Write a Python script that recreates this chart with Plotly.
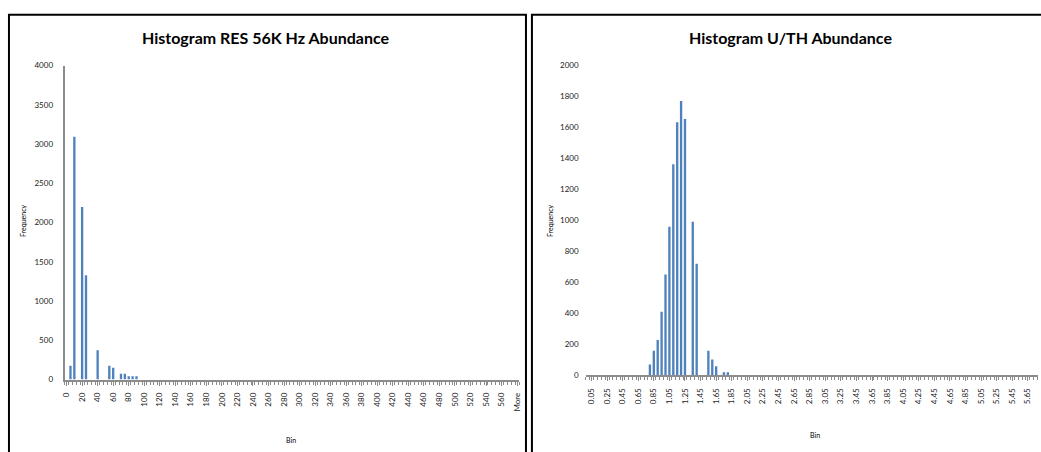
import plotly.graph_objects as go

# ---- data -------------------------------------------------------------
# RES 56K Hz abundance: bin index -> frequency
res_bins = [1, 2, 4, 5, 8, 11, 12, 14, 15, 16, 17, 18]
res_counts = [174, 3093, 2199, 1329, 373, 174, 149, 75, 75, 43, 43, 43]
res_tick_pos = list(range(0, 113, 4)) + [116]
res_tick_text = ["0", "20", "40", "60", "80", "100", "120", "140", "160", "180",
                 "200", "220", "240", "260", "280", "300", "320", "340", "360",
                 "380", "400", "420", "440", "460", "480", "500", "520", "540",
                 "560", "More"]
res_y_ticks = [0, 500, 1000, 1500, 2000, 2500, 3000, 3500, 4000]

# U/TH abundance: bin index -> frequency
uth_bins = [16, 17, 18, 19, 20, 21, 22, 23, 24, 25, 27, 28, 31, 32, 33, 35, 36]
uth_counts = [69, 158, 227, 410, 650, 959, 1363, 1634, 1772, 1655, 991, 719,
              158, 101, 57, 19, 19]
uth_tick_pos = list(range(1, 114, 4)) + [116]
uth_tick_text = ["0.05", "0.25", "0.45", "0.65", "0.85", "1.05", "1.25", "1.45",
                 "1.65", "1.85", "2.05", "2.25", "2.45", "2.65", "2.85", "3.05",
                 "3.25", "3.45", "3.65", "3.85", "4.05", "4.25", "4.45", "4.65",
                 "4.85", "5.05", "5.25", "5.45", "5.65", "More"]
uth_y_ticks = [0, 200, 400, 600, 800, 1000, 1200, 1400, 1600, 1800, 2000]

# ---- geometry helpers (pixel -> paper) ---------------------------------
W, H = 1041, 452
def px(x):
    return x / W
def py(y):
    return 1 - y / H

BAR = "#4F81BD"
AXIS = "#8C8C8C"
TXT = "#222222"
FONT = "Lato"

fig = go.Figure()
fig.add_trace(go.Bar(x=res_bins, y=res_counts, marker_color=BAR,
                     marker_line_width=0, xaxis="x", yaxis="y",
                     showlegend=False))
fig.add_trace(go.Bar(x=uth_bins, y=uth_counts, marker_color=BAR,
                     marker_line_width=0, xaxis="x2", yaxis="y2",
                     showlegend=False))

xtick_font = dict(family=FONT, size=8, color=TXT)
ytick_font = dict(family=FONT, size=8, color=TXT)

fig.update_layout(
    width=W, height=H,
    margin=dict(l=0, r=0, t=0, b=0),
    paper_bgcolor="white", plot_bgcolor="white",
    bargap=0.4,
    xaxis=dict(domain=[px(62), px(519)], range=[-0.5, 116.5],
               tickmode="array", tickvals=res_tick_pos, ticktext=res_tick_text,
               tickangle=-90, tickfont=xtick_font, showgrid=False, zeroline=False,
               showline=True, linecolor=AXIS, linewidth=2,
               ticks="outside", ticklen=4, tickcolor=AXIS, tickwidth=1,
               minor=dict(dtick=1, tick0=0.5, ticks="outside", ticklen=3,
                          tickcolor=AXIS, showgrid=False),
               ticklabelstandoff=4, anchor="y", fixedrange=True),
    yaxis=dict(domain=[py(383), py(62)], range=[0, 4000],
               tickmode="array", tickvals=res_y_ticks,
               tickfont=ytick_font, showgrid=False, zeroline=False,
               showline=True, linecolor=AXIS, linewidth=2,
               ticks="", ticklabelstandoff=8, anchor="x", fixedrange=True),
    xaxis2=dict(domain=[px(586), 1.0], range=[-0.5, 115.6],
                tickmode="array", tickvals=uth_tick_pos, ticktext=uth_tick_text,
                tickangle=-90, tickfont=xtick_font, showgrid=False, zeroline=False,
                showline=True, linecolor=AXIS, linewidth=2,
                ticks="outside", ticklen=4, tickcolor=AXIS, tickwidth=1,
                minor=dict(dtick=1, tick0=0.5, ticks="outside", ticklen=3,
                           tickcolor=AXIS, showgrid=False),
                ticklabelstandoff=4, anchor="y2", fixedrange=True),
    yaxis2=dict(domain=[py(378.5), py(62)], range=[0, 2000],
                tickmode="array", tickvals=uth_y_ticks,
                tickfont=ytick_font, showgrid=False, zeroline=False,
                showline=False, ticks="", ticklabelstandoff=6,
                anchor="x2", fixedrange=True),
)

# panel frames
frame = dict(color="black", width=2)
shapes = [
    dict(type="line", xref="paper", yref="paper", x0=px(6), x1=px(6), y0=-0.1, y1=py(10), line=frame),
    dict(type="line", xref="paper", yref="paper", x0=px(5), x1=px(527), y0=py(10), y1=py(10), line=frame),
    dict(type="line", xref="paper", yref="paper", x0=px(526), x1=px(526), y0=-0.1, y1=py(10), line=frame),
    dict(type="line", xref="paper", yref="paper", x0=px(532), x1=px(532), y0=-0.1, y1=py(10), line=frame),
    dict(type="line", xref="paper", yref="paper", x0=px(531), x1=1.05, y0=py(10), y1=py(10), line=frame),
]
fig.update_layout(shapes=shapes)

# titles and axis captions
def note(text, x, y, size, angle=0, bold=False):
    fig.add_annotation(text=text, xref="paper", yref="paper", x=px(x), y=py(y),
                       showarrow=False, textangle=angle,
                       font=dict(family=FONT, size=size, color="black",
                                 weight="bold" if bold else "normal"),
                       xanchor="center", yanchor="middle")

note("Histogram RES 56K Hz Abundance", 265, 33, 16, bold=True)
note("Histogram U/TH Abundance", 792, 33, 16, bold=True)
note("Frequency", 20, 220, 7, angle=-90)
note("Frequency", 550, 220, 7, angle=-90)
note("Bin", 290, 445, 7)
note("Bin", 817, 440, 7)

fig.write_html("out.html")
